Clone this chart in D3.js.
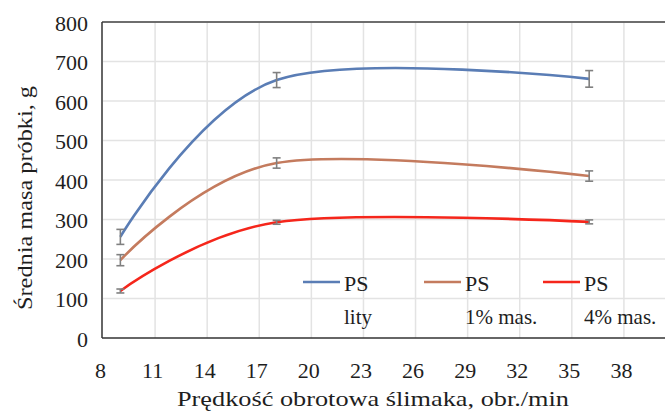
<!DOCTYPE html>
<html><head><meta charset="utf-8">
<script src="https://cdn.jsdelivr.net/npm/d3@7"></script>
<style>body{margin:0;background:#fff}svg{display:block}</style>
</head><body><svg id="c" width="665" height="414"></svg>
<script>
const speeds = [9, 18, 36];
const psLity = [256, 653, 656];
const psLityErr = [19, 19, 21];
const ps1 = [197, 443, 410];
const ps1Err = [14, 13, 13];
const ps4 = [119, 293, 294];
const ps4Err = [5, 5, 5];
const xTicks = [8, 11, 14, 17, 20, 23, 26, 29, 32, 35, 38];
const yTicks = [0, 100, 200, 300, 400, 500, 600, 700, 800];
const seriesNames = [["PS", "lity"], ["PS", "1% mas."], ["PS", "4% mas."]];
const colors = ["#5a7db5", "#c47b5e", "#f5261b"];

const FONT = "'Liberation Serif', 'Times New Roman', Times, 'Noto Serif', 'DejaVu Serif', serif";
const FS = 22;
const TXT = "#1e1e1e";
const svg = d3.select("#c");
const x = d3.scaleLinear().domain([8, 41]).range([103, 676]);
const y = d3.scaleLinear().domain([0, 800]).range([338, 22]);

// gridlines
svg.append("g").selectAll("line").data(yTicks.slice(1)).join("line")
  .attr("x1", 103).attr("x2", 665).attr("y1", d => y(d)).attr("y2", d => y(d))
  .attr("stroke", "#e3e3e3").attr("stroke-width", 1.5);
svg.append("g").selectAll("line").data(xTicks.slice(1).concat([41])).join("line")
  .attr("x1", d => x(d)).attr("x2", d => x(d)).attr("y1", 22).attr("y2", 338)
  .attr("stroke", "#e3e3e3").attr("stroke-width", 1.5);

// frame
svg.append("line").attr("x1", 102).attr("x2", 665).attr("y1", 22).attr("y2", 22).attr("stroke", "#444").attr("stroke-width", 1.5);
svg.append("line").attr("x1", 102).attr("x2", 665).attr("y1", 338).attr("y2", 338).attr("stroke", "#333").attr("stroke-width", 1.5);
svg.append("line").attr("x1", 102).attr("x2", 102).attr("y1", 22).attr("y2", 338).attr("stroke", "#333").attr("stroke-width", 1.5);

// axes labels via d3 axis
const yAxis = svg.append("g").attr("transform", "translate(88,1)")
  .call(d3.axisLeft(y).tickValues(yTicks).tickSize(0).tickPadding(0));
yAxis.select(".domain").remove();
yAxis.attr("font-family", null).attr("font-size", null);
yAxis.selectAll("text").attr("fill", TXT).style("font-family", FONT).style("font-size", FS + "px");

const xAxis = svg.append("g").attr("transform", "translate(-3,362)")
  .call(d3.axisBottom(x).tickValues(xTicks).tickSize(0).tickPadding(0).tickFormat(d3.format("d")));
xAxis.select(".domain").remove();
xAxis.attr("font-family", null).attr("font-size", null);
xAxis.selectAll("text").attr("fill", TXT).style("font-family", FONT).style("font-size", FS + "px");

function label(sel, size) {
  return sel.style("font-family", FONT).style("font-size", size + "px").attr("fill", TXT);
}

// titles
label(svg.append("text"), FS).attr("x", 373).attr("y", 406).attr("text-anchor", "middle")
  .attr("textLength", 392).attr("lengthAdjust", "spacingAndGlyphs")
  .text("Prędkość obrotowa ślimaka, obr./min");
label(svg.append("text"), FS).attr("transform", "translate(32,198) rotate(-90)").attr("text-anchor", "middle")
  .attr("textLength", 224).attr("lengthAdjust", "spacingAndGlyphs")
  .text("Średnia masa próbki, g");

// series
const allSeries = [[psLity, psLityErr], [ps1, ps1Err], [ps4, ps4Err]];
const line = d3.line().x(d => x(d[0])).y(d => y(d[1])).curve(d3.curveCardinal.tension(0));
allSeries.forEach(([vals, errs], i) => {
  const pts = speeds.map((s, j) => [s, vals[j]]);
  svg.append("path").attr("d", line(pts)).attr("fill", "none").attr("stroke", colors[i]).attr("stroke-width", 2.6);
});
allSeries.forEach(([vals, errs], i) => {
  const g = svg.append("g").attr("stroke", "#808080").attr("stroke-width", 1.6);
  speeds.forEach((s, j) => {
    const cx = x(s), y1 = y(vals[j] + errs[j]), y2 = y(vals[j] - errs[j]);
    g.append("line").attr("x1", cx).attr("x2", cx).attr("y1", y1).attr("y2", y2);
    g.append("line").attr("x1", cx - 4).attr("x2", cx + 4).attr("y1", y1).attr("y2", y1);
    g.append("line").attr("x1", cx - 4).attr("x2", cx + 4).attr("y1", y2).attr("y2", y2);
  });
});

// legend
const legX = [303, 424, 543];
seriesNames.forEach((nm, i) => {
  const lx = legX[i];
  svg.append("line").attr("x1", lx).attr("x2", lx + 37).attr("y1", 282).attr("y2", 282).attr("stroke", colors[i]).attr("stroke-width", 2.6);
  label(svg.append("text"), FS).attr("x", lx + 41).attr("y", 291).text(nm[0]);
  label(svg.append("text"), 21).attr("x", lx + 41).attr("y", 324).text(nm[1]);
});
</script></body></html>
